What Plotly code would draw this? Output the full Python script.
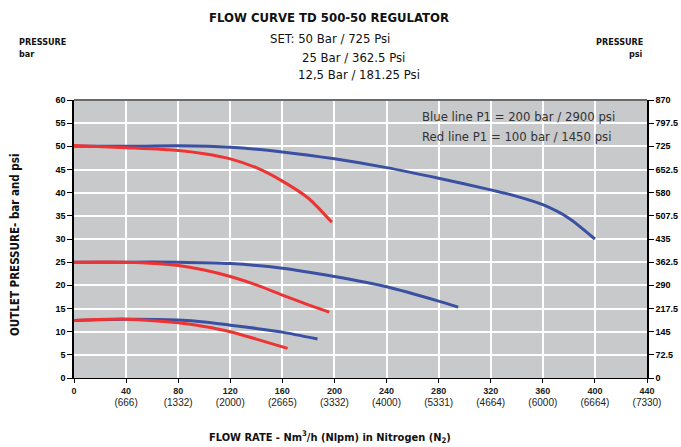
import plotly.graph_objects as go

# ---- data ----
blue50_x = [0, 40, 80, 120, 160, 200, 240, 280, 320, 340, 360, 380, 400]
blue50_y = [50, 50, 50.1, 49.8, 48.8, 47.3, 45.4, 43.1, 40.6, 39.2, 37.4, 34.5, 30]
red50_x = [0, 40, 80, 100, 120, 140, 160, 180, 198]
red50_y = [50.2, 49.7, 49.1, 48.4, 47.3, 45.4, 42.5, 38.8, 33.6]
blue25_x = [0, 40, 80, 120, 160, 200, 240, 280, 295]
blue25_y = [25, 25, 25, 24.7, 23.7, 21.9, 19.7, 16.6, 15.3]
red25_x = [0, 40, 80, 100, 120, 140, 160, 180, 196]
red25_y = [25, 25, 24.3, 23.3, 21.9, 20.1, 17.9, 15.8, 14.2]
blue12_x = [0, 40, 80, 100, 120, 140, 160, 187]
blue12_y = [12.4, 12.7, 12.5, 12.1, 11.4, 10.7, 9.9, 8.4]
red12_x = [0, 40, 80, 100, 120, 140, 164]
red12_y = [12.4, 12.7, 11.9, 11.1, 10.0, 8.4, 6.4]

x_ticks = [0, 40, 80, 120, 160, 200, 240, 280, 320, 360, 400, 440]
x_nlpm = ["", "(666)", "(1332)", "(2000)", "(2665)", "(3332)", "(4000)", "(5331)",
          "(4664)", "(6000)", "(6664)", "(7330)"]
bar_ticks = [0, 5, 10, 15, 20, 25, 30, 35, 40, 45, 50, 55, 60]
psi_ticks = [0, 72.5, 145, 217.5, 290, 362.5, 435, 507.5, 580, 652.5, 725, 797.5, 870]

BLUE = "#3a50a2"
RED = "#ee3333"
COND = "Liberation Sans Narrow, DejaVu Sans Condensed, Arial Narrow, sans-serif"

L, R, T, B = 74, 647, 100, 378
W, H = 681, 447

def px(x):
    return (x - L) / (R - L)

def py(y):
    return (B - y) / (B - T)

fig = go.Figure()
for xs, ys, col in [(blue50_x, blue50_y, BLUE), (red50_x, red50_y, RED),
                    (blue25_x, blue25_y, BLUE), (red25_x, red25_y, RED),
                    (blue12_x, blue12_y, BLUE), (red12_x, red12_y, RED)]:
    fig.add_trace(go.Scatter(x=xs, y=ys, mode="lines",
                             line=dict(color=col, width=3, shape="spline", smoothing=0.7),
                             showlegend=False, hoverinfo="skip"))
# invisible trace for secondary axis
fig.add_trace(go.Scatter(x=[0], y=[0], yaxis="y2", mode="markers",
                         marker=dict(opacity=0), showlegend=False, hoverinfo="skip"))

ticktext = ["<b>%d</b>%s" % (v, ("<br><span style='font-size:10px'>" + t + "</span>") if t else "")
            for v, t in zip(x_ticks, x_nlpm)]

fig.update_layout(
    width=W, height=H,
    margin=dict(l=L, r=W - R, t=T, b=H - B, autoexpand=False),
    paper_bgcolor="white",
    plot_bgcolor="#c8c9cb",
    font=dict(family="Liberation Sans, Arial, sans-serif", size=9, color="black"),
    xaxis=dict(range=[0, 440], tickvals=x_ticks, ticktext=ticktext,
               showgrid=True, gridcolor="white", gridwidth=1.5,
               showline=True, linecolor="black", linewidth=1,
               ticks="outside", ticklen=4, tickcolor="black",
               tickfont=dict(size=9, color="#222"), zeroline=False,
               automargin=False, fixedrange=True),
    yaxis=dict(range=[0, 60], tickvals=bar_ticks, ticktext=["<b>%d</b>" % v for v in bar_ticks],
               showgrid=True, gridcolor="white", gridwidth=1.5,
               showline=True, linecolor="black", linewidth=1.5,
               ticks="outside", ticklen=5, tickcolor="black",
               tickfont=dict(size=9), zeroline=False, automargin=False),
    yaxis2=dict(range=[0, 870], tickvals=psi_ticks,
                ticktext=["<b>%g</b>" % v for v in psi_ticks],
                overlaying="y", side="right", showgrid=False,
                showline=True, linecolor="black", linewidth=1.5,
                ticks="outside", ticklen=5, tickcolor="black",
                tickfont=dict(size=9), zeroline=False, automargin=False),
)

# top border
fig.add_shape(type="line", xref="paper", yref="paper", x0=0, x1=1, y0=1, y1=1,
              line=dict(color="#6a6a6a", width=2))

ann = []
ann.append(dict(text="<b>FLOW CURVE TD 500-50 REGULATOR</b>", x=px(329), y=py(17),
                xanchor="center", yanchor="middle", font=dict(family=COND, size=13, color="#111")))
ann.append(dict(text="SET: 50 Bar / 725 Psi", x=px(268), y=py(38),
                xanchor="left", yanchor="middle", font=dict(family=COND, size=13, color="#111")))
ann.append(dict(text="25 Bar / 362.5 Psi", x=px(300), y=py(57),
                xanchor="left", yanchor="middle", font=dict(family=COND, size=13, color="#111")))
ann.append(dict(text="12,5 Bar / 181.25 Psi", x=px(296), y=py(75),
                xanchor="left", yanchor="middle", font=dict(family=COND, size=13, color="#111")))
ann.append(dict(text="<b>PRESSURE</b>", x=px(17), y=py(42), xanchor="left", yanchor="middle",
                font=dict(family=COND, size=9, color="#111")))
ann.append(dict(text="<b>bar</b>", x=px(17), y=py(54), xanchor="left", yanchor="middle",
                font=dict(family=COND, size=9, color="#111")))
ann.append(dict(text="<b>PRESSURE</b>", x=px(645), y=py(42), xanchor="right", yanchor="middle",
                font=dict(family=COND, size=9, color="#111")))
ann.append(dict(text="<b>psi</b>", x=px(645), y=py(54), xanchor="right", yanchor="middle",
                font=dict(family=COND, size=9, color="#111")))
ann.append(dict(text="Blue line P1 = 200 bar / 2900 psi", x=px(420), y=py(117),
                xanchor="left", yanchor="middle", font=dict(family=COND, size=13, color="#333")))
ann.append(dict(text="Red line P1 = 100 bar / 1450 psi", x=px(420), y=py(136),
                xanchor="left", yanchor="middle", font=dict(family=COND, size=13, color="#333")))
ann.append(dict(text="<b>OUTLET PRESSURE- bar and psi</b>", x=px(15), y=py(245), textangle=-90,
                xanchor="center", yanchor="middle", font=dict(family=COND, size=11.5, color="#111")))
ann.append(dict(text="<b>FLOW RATE - Nm<sup>3</sup>/h (Nlpm) in Nitrogen (N<sub>2</sub>)</b>",
                x=px(330), y=py(437), xanchor="center", yanchor="middle",
                font=dict(family=COND, size=11, color="#111")))
for a in ann:
    a.update(xref="paper", yref="paper", showarrow=False)
fig.update_layout(annotations=ann)

fig.write_html("out.html")
